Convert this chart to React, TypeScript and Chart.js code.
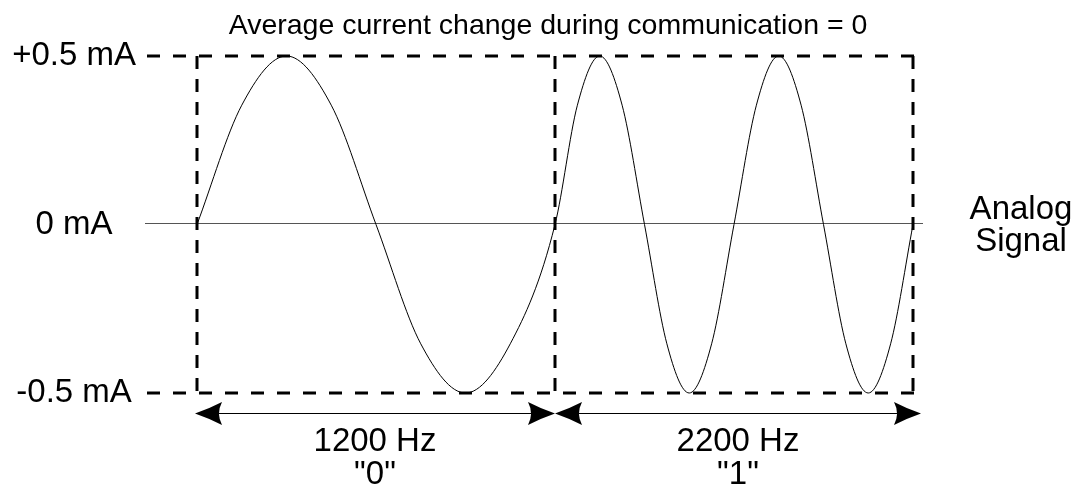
import React, { useEffect, useRef } from 'react';
import { Chart, registerables } from 'chart.js';

Chart.register(...registerables);

// ---- data ----
const titleText = 'Average current change during communication = 0';
const sideLabel = ['Analog', 'Signal'];
const bitBoundaries = [0, 1, 2];
const bitFrequencies = ['1200 Hz', '2200 Hz'];
const bitValues = ['"0"', '"1"'];
const yTickValues = [-0.5, 0, 0.5];
const yTickLabels = ['-0.5 mA', '0 mA', '+0.5 mA'];
const dashedLevels = [0.5, -0.5];
const zeroLevel = 0;
const waveX = [
  0, 0.125, 0.25, 0.375, 0.5, 0.625, 0.75, 0.875, 1,
  1.0625, 1.125, 1.1875, 1.25, 1.3125, 1.375, 1.4375, 1.5,
  1.5625, 1.625, 1.6875, 1.75, 1.8125, 1.875, 1.9375, 2,
];
const waveY = [
  0, 0.354, 0.5, 0.354, 0, -0.354, -0.5, -0.354, 0,
  0.354, 0.5, 0.354, 0, -0.354, -0.5, -0.354, 0,
  0.354, 0.5, 0.354, 0, -0.354, -0.5, -0.354, 0,
];

const FONT = "'Liberation Sans', Arial, Helvetica, sans-serif";

function arrowHead(ctx: CanvasRenderingContext2D, tipX: number, y: number, dir: number) {
  const L = 27;
  const H = 11.5;
  const N = 21;
  ctx.beginPath();
  ctx.moveTo(tipX, y);
  ctx.quadraticCurveTo(tipX - dir * L * 0.55, y - H * 0.45, tipX - dir * L, y - H);
  ctx.quadraticCurveTo(tipX - dir * N, y, tipX - dir * L, y + H);
  ctx.quadraticCurveTo(tipX - dir * L * 0.55, y + H * 0.45, tipX, y);
  ctx.closePath();
  ctx.fill();
}

const underlay = {
  id: 'underlay',
  beforeDatasetsDraw(chart: any) {
    const { ctx } = chart;
    const xs = chart.scales.x;
    const ys = chart.scales.y;
    const left = xs.getPixelForValue(bitBoundaries[0]);
    const right = xs.getPixelForValue(bitBoundaries[bitBoundaries.length - 1]);
    const top = ys.getPixelForValue(Math.max(...dashedLevels));
    const bottom = ys.getPixelForValue(Math.min(...dashedLevels));
    ctx.save();
    // zero line
    const zy = ys.getPixelForValue(zeroLevel) - 2;
    ctx.strokeStyle = '#555';
    ctx.lineWidth = 1;
    ctx.setLineDash([]);
    ctx.beginPath();
    ctx.moveTo(left - 52, Math.round(zy) + 0.5);
    ctx.lineTo(right + 10, Math.round(zy) + 0.5);
    ctx.stroke();
    // dashed horizontals
    ctx.strokeStyle = '#000';
    ctx.lineWidth = 3;
    ctx.setLineDash([13, 13]);
    dashedLevels.forEach((lv, i) => {
      const y = ys.getPixelForValue(lv);
      ctx.beginPath();
      ctx.moveTo(left - 50, y);
      ctx.lineTo(right + (i === 0 ? 3 : 8), y);
      ctx.stroke();
    });
    // dashed verticals
    ctx.setLineDash([13, 10]);
    bitBoundaries.forEach((b) => {
      const x = xs.getPixelForValue(b);
      ctx.beginPath();
      ctx.moveTo(x, top);
      ctx.lineTo(x, bottom);
      ctx.stroke();
    });
    ctx.restore();
  },
  afterDatasetsDraw(chart: any) {
    const { ctx } = chart;
    const xs = chart.scales.x;
    const ys = chart.scales.y;
    const left = xs.getPixelForValue(bitBoundaries[0]);
    const right = xs.getPixelForValue(bitBoundaries[bitBoundaries.length - 1]);
    const bottom = ys.getPixelForValue(Math.min(...dashedLevels));
    const zy = ys.getPixelForValue(zeroLevel);
    ctx.save();
    ctx.fillStyle = '#000';
    ctx.strokeStyle = '#000';
    ctx.setLineDash([]);
    // arrows
    const ay = Math.round(bottom + 20) + 0.5;
    for (let i = 0; i < bitBoundaries.length - 1; i++) {
      let x1 = xs.getPixelForValue(bitBoundaries[i]);
      let x2 = xs.getPixelForValue(bitBoundaries[i + 1]);
      if (i === 0) x1 -= 2;
      if (i === bitBoundaries.length - 2) x2 += 8;
      ctx.lineWidth = 1;
      ctx.beginPath();
      ctx.moveTo(x1 + 5, ay);
      ctx.lineTo(x2 - 5, ay);
      ctx.stroke();
      arrowHead(ctx, x1, ay, -1);
      arrowHead(ctx, x2, ay, 1);
      // labels
      const cx = (x1 + x2) / 2;
      ctx.font = `33px ${FONT}`;
      ctx.textAlign = 'center';
      ctx.textBaseline = 'alphabetic';
      ctx.fillText(bitFrequencies[i], cx, bottom + 58);
      ctx.fillText(bitValues[i], cx, bottom + 91);
    }
    // title
    ctx.font = `28.5px ${FONT}`;
    ctx.textAlign = 'center';
    ctx.fillText(titleText, (left + right) / 2 - 7, 34);
    // side label
    ctx.font = `33px ${FONT}`;
    sideLabel.forEach((t, i) => {
      ctx.fillText(t, right + 108, zy - 6 + i * 32);
    });
    ctx.restore();
  },
};

export default function App() {
  const ref = useRef<HTMLCanvasElement>(null);
  useEffect(() => {
    if (!ref.current) return;
    const chart = new Chart(ref.current, {
      type: 'scatter',
      data: {
        datasets: [
          {
            data: waveX.map((x, i) => ({ x, y: waveY[i] })),
            showLine: true,
            borderColor: '#000',
            borderWidth: 1,
            pointRadius: 0,
            cubicInterpolationMode: 'monotone',
            clip: false,
          } as any,
        ],
      },
      options: {
        responsive: false,
        animation: false,
        layout: { padding: { left: 0, right: 171, top: 56, bottom: 91 } },
        plugins: { legend: { display: false }, tooltip: { enabled: false } },
        scales: {
          x: { type: 'linear', min: 0, max: 2, display: false },
          y: {
            type: 'linear',
            min: -0.5,
            max: 0.5,
            position: 'left',
            grid: { display: false, drawTicks: false },
            border: { display: false },
            ticks: {
              color: '#000',
              font: { family: FONT, size: 33 },
              crossAlign: 'center',
              padding: 61,
              callback: (v: any) => {
                const idx = yTickValues.indexOf(Number(v));
                return idx >= 0 ? yTickLabels[idx] : '';
              },
            },
            afterBuildTicks: (s: any) => {
              s.ticks = yTickValues.map((v) => ({ value: v }));
            },
            afterFit: (s: any) => {
              s.width = 197;
              s.paddingTop = 0;
              s.paddingBottom = 0;
            },
          } as any,
        },
      },
      plugins: [underlay],
    });
    return () => chart.destroy();
  }, []);
  return (
    <div style={{ position: 'absolute', left: 0, top: 0, width: 1084, height: 484, background: '#fff' }}>
      <canvas ref={ref} width={1084} height={484} />
    </div>
  );
}
